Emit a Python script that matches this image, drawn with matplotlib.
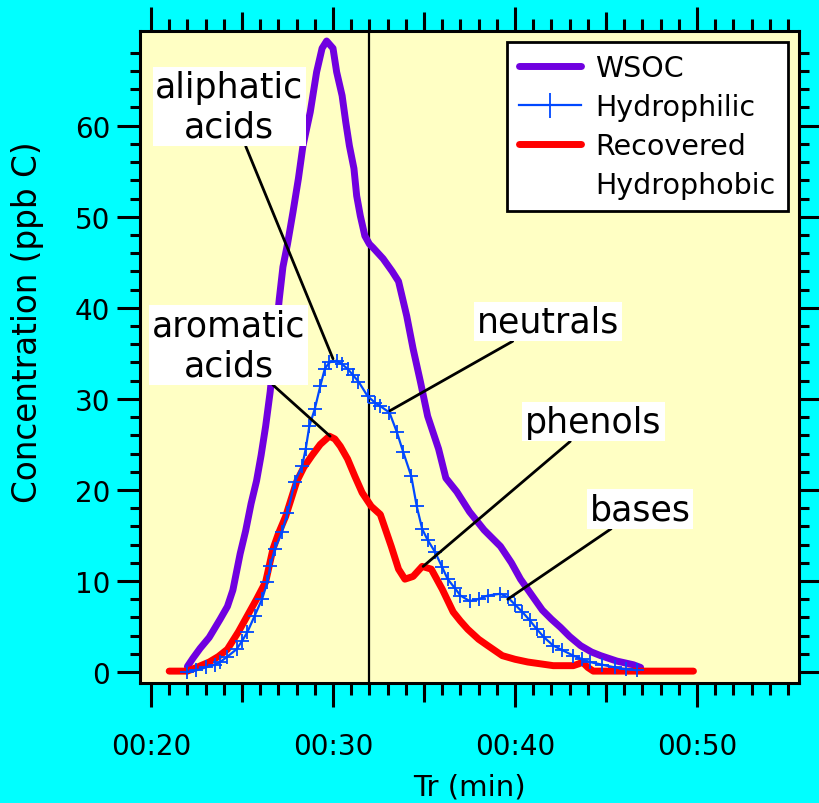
"""
Retention profile of WSOC and its fractions, with annotated compound classes.
"""
import numpy as np
import matplotlib
matplotlib.use("Agg")
import matplotlib.pyplot as plt
from matplotlib.lines import Line2D
from matplotlib.ticker import MultipleLocator, FixedLocator, FuncFormatter

# WSOC (purple)
wsocTime = [22.0, 22.3, 22.7, 23.2, 23.8, 24.2, 24.5, 24.9, 25.2, 25.5, 25.8, 26.05, 26.3, 26.55,
            26.8, 27.05, 27.25, 27.5, 27.8, 28.1, 28.35, 28.75, 29.1, 29.4, 29.65, 30.0, 30.2, 30.5,
            30.7, 30.9, 31.15, 31.3, 31.5, 31.75, 32.0, 32.2, 32.75, 33.25, 33.6, 34.05, 34.4, 34.8,
            35.2, 35.8, 36.2, 36.8, 37.5, 38.3, 39.2, 39.8, 40.3, 40.9, 41.5, 42.0, 42.5, 43.0,
            43.6, 44.2, 44.7, 45.6, 46.5, 46.9]
wsocConc = [0.6, 1.5, 2.6, 3.8, 5.8, 7.2, 9.0, 13.0, 15.5, 18.5, 21.0, 23.8, 27.0, 30.8,
            36.0, 41.0, 44.5, 47.0, 50.5, 54.2, 57.8, 61.5, 65.9, 68.5, 69.3, 68.5, 65.9, 63.3,
            60.4, 57.8, 55.3, 52.3, 50.1, 47.9, 47.0, 46.6, 45.4, 44.0, 42.9, 39.1, 35.5, 31.9,
            28.1, 24.5, 21.3, 19.8, 17.6, 15.6, 13.8, 12.0, 10.2, 8.5, 6.8, 5.8, 4.9, 3.9,
            2.9, 2.2, 1.8, 1.2, 0.8, 0.5]

# Hydrophilic (blue, + markers)
philTime = [22.0, 22.5, 23.0, 23.5, 23.8, 24.2, 24.7, 25.0, 25.3, 25.7, 26.1, 26.4, 26.55, 26.8,
            27.2, 27.5, 27.9, 28.3, 28.5, 28.7, 29.0, 29.3, 29.55, 29.8, 30.2, 30.5, 30.8, 31.1,
            31.4, 31.9, 32.3, 32.6, 33.1, 33.5, 33.85, 34.3, 34.6, 34.9, 35.2, 35.6, 36.0, 36.3,
            36.7, 37.0, 37.5, 38.0, 38.5, 39.2, 39.6, 40.0, 40.4, 40.8, 41.2, 41.6, 42.1, 42.6,
            43.2, 43.7, 44.1, 44.8, 45.5, 46.1, 46.7]
philConc = [0.0, 0.2, 0.5, 0.8, 1.1, 1.7, 2.5, 3.4, 4.4, 6.2, 8.0, 9.9, 11.6, 13.5,
            15.4, 17.5, 20.9, 22.6, 24.5, 27.0, 28.9, 31.4, 33.3, 34.0, 34.2, 33.8, 33.3, 32.6,
            31.9, 30.3, 29.6, 29.2, 28.5, 26.4, 24.2, 21.5, 18.2, 15.7, 14.5, 13.2, 11.5, 10.2,
            9.2, 8.4, 7.8, 8.0, 8.4, 8.6, 8.2, 7.4, 6.6, 5.7, 4.7, 3.8, 2.9, 2.4,
            1.8, 1.4, 1.1, 0.8, 0.5, 0.3, 0.2]

# Recovered hydrophobic (red)
phobTime = [21.0, 21.5, 22.0, 22.5, 23.2, 23.7, 24.2, 24.8, 25.3, 25.8, 26.3, 26.7, 27.0, 27.4,
            27.7, 28.0, 28.4, 28.85, 29.3, 29.8, 30.1, 30.4, 30.8, 31.2, 31.6, 32.1, 32.6, 33.2,
            33.6, 33.95, 34.4, 34.9, 35.4, 36.0, 36.6, 37.0, 37.4, 38.0, 38.5, 39.3, 40.0, 40.7,
            41.4, 42.1, 42.7, 43.2, 43.5, 43.7, 44.0, 44.3, 45.0, 46.0, 47.0, 48.0, 49.0, 49.8]
phobConc = [0.1, 0.1, 0.1, 0.5, 1.1, 1.7, 2.5, 4.4, 6.2, 8.0, 9.9, 13.5, 15.2, 17.1,
            19.0, 20.9, 22.5, 23.8, 25.0, 25.9, 25.6, 24.8, 23.4, 21.5, 19.7, 18.2, 17.3, 13.8,
            11.3, 10.2, 10.5, 11.6, 11.3, 9.1, 6.6, 5.6, 4.7, 3.6, 2.9, 1.8, 1.4, 1.1,
            0.9, 0.7, 0.7, 0.7, 0.9, 1.1, 0.5, 0.1, 0.1, 0.1, 0.1, 0.1, 0.1, 0.1]

# annotations: label, point on curve, text centre
annLabels = ["aliphatic\nacids", "aromatic\nacids", "neutrals", "phenols", "bases"]
annPoints = [(30.0, 34.4), (29.84, 25.9), (33.13, 28.7), (34.95, 11.6), (39.6, 8.0)]
annText = [(24.31, 62.1), (24.26, 35.9), (41.79, 38.5), (44.31, 27.5), (46.87, 17.9)]

yMajor = [0, 10, 20, 30, 40, 50, 60]
xMedium = [25, 35, 45]
cutTime = 32.0

PURPLE = "#7000e0"
BLUE = "#0048ff"
RED = "#ff0000"

fig = plt.figure(figsize=(8.19, 8.04), dpi=100, facecolor="#00ffff")
ax = fig.add_axes([0.171, 0.1493, 0.8046, 0.8109])
ax.set_facecolor("#ffffc4")

ax.plot(wsocTime, wsocConc, color=PURPLE, lw=5, solid_capstyle="round", label="WSOC")
ax.plot(phobTime, phobConc, color=RED, lw=5, solid_capstyle="round", label="Recovered")
ax.plot(philTime, philConc, color=BLUE, lw=1.6, marker="+", ms=10, mew=1.3, label="Hydrophilic")
ax.axvline(cutTime, color="black", lw=1.6, zorder=1.5)

for text, xy, xyt in zip(annLabels, annPoints, annText):
    ax.annotate(text, xy=xy, xytext=xyt, textcoords="data", ha="center", va="center",
                fontsize=25, linespacing=1.22, zorder=5,
                bbox=dict(boxstyle="square,pad=0.08", fc="white", ec="none"),
                arrowprops=dict(arrowstyle="-", color="black", lw=2, shrinkA=0, shrinkB=0))

ax.set_xlim(19.4, 55.6)
ax.set_ylim(-1.2, 70.4)

ax.xaxis.set_major_locator(MultipleLocator(10))
ax.xaxis.set_minor_locator(MultipleLocator(1))
ax.xaxis.set_major_formatter(FuncFormatter(lambda x, p: f"00:{int(round(x)):02d}"))
ax.yaxis.set_major_locator(FixedLocator(yMajor))
ax.yaxis.set_minor_locator(FixedLocator(np.arange(0, 69, 2)))

ax.tick_params(axis="both", which="both", direction="out", width=2.2, top=True, right=True,
               labeltop=False, labelright=False, labelsize=20)
ax.tick_params(axis="x", which="major", length=17.5, pad=18)
ax.tick_params(axis="x", which="minor", length=8.6)
ax.tick_params(axis="y", which="major", length=16.5, pad=5)
ax.tick_params(axis="y", which="minor", length=7.2)

# medium ticks at the half-decades
for side in ["bottom", "top"]:
    sec = ax.secondary_xaxis(side)
    sec.set_xticks(xMedium, labels=["" for _ in xMedium])
    sec.tick_params(direction="out", length=13.5, width=2.2)
    sec.spines[side].set_visible(False)

for s in ax.spines.values():
    s.set_linewidth(2.2)

ax.set_xlabel("Tr (min)", fontsize=21)
ax.set_ylabel("Concentration (ppb C)", fontsize=23.5)
ax.xaxis.set_label_coords(0.5, -0.137)
ax.yaxis.set_label_coords(-0.145, 0.555)

handles = [
    Line2D([], [], color=PURPLE, lw=5, solid_capstyle="round"),
    Line2D([], [], color=BLUE, lw=1.6, marker="+", ms=18, mew=1.3),
    Line2D([], [], color=RED, lw=5, solid_capstyle="round"),
    Line2D([], [], color="none"),
]
labels = ["WSOC", "Hydrophilic", "Recovered", "Hydrophobic"]
leg = ax.legend(handles, labels, loc="upper right", fontsize=20.5, frameon=True, fancybox=False,
                framealpha=1, edgecolor="black", facecolor="white", handlelength=2.2,
                handletextpad=0.5, labelspacing=0.38, borderpad=0.42, borderaxespad=0.4,
                markerscale=1)
leg.get_frame().set_linewidth(2)
leg.set_zorder(6)

fig.savefig("out.png", dpi=100, facecolor=fig.get_facecolor())
